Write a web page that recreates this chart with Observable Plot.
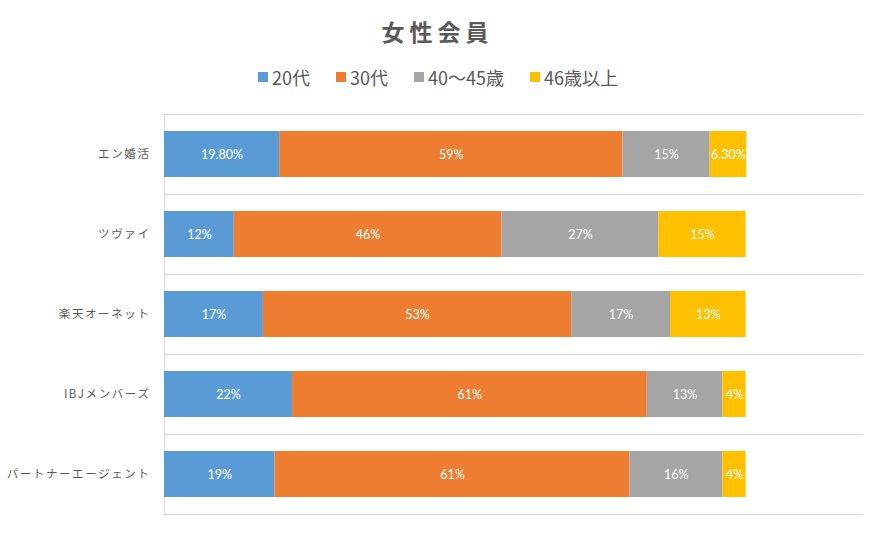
<!DOCTYPE html>
<html>
<head>
<meta charset="utf-8">
<script src="https://cdn.jsdelivr.net/npm/d3@7"></script>
<script src="https://cdn.jsdelivr.net/npm/@observablehq/plot@0.6"></script>
<style>
  html, body { margin: 0; padding: 0; background: #fff; }
  #wrap { width: 875px; height: 557px; position: relative; overflow: hidden; font-family: "Noto Sans CJK JP", sans-serif; }
  #head { position: relative; height: 95px; }
  #title { position: absolute; left: 0; width: 875px; top: 13px; text-align: center; font-size: 23px; font-weight: bold; color: #595959; letter-spacing: 5px; line-height: 36px; }
  #legend { position: absolute; top: 64px; left: 258px; display: flex; align-items: center; font-size: 18px; color: #595959; line-height: 26px; }
  .item { display: flex; align-items: center; margin-right: 26px; }
  .sw { width: 10px; height: 10px; margin-right: 4px; }
  g[aria-label="fy-axis tick label"] text { letter-spacing: 1.6px; }
</style>
</head>
<body>
<div id="wrap">
  <div id="head"><div id="title">女性会員</div><div id="legend"></div></div>
  <div id="chart"></div>
</div>
<script>
const companies = ["エン婚活", "ツヴァイ", "楽天オーネット", "IBJメンバーズ", "パートナーエージェント"];
const ages = ["20代", "30代", "40〜45歳", "46歳以上"];
const colors = ["#5B9BD5", "#ED7D31", "#A5A5A5", "#FFC000"];
const s20 = [19.8, 12, 17, 22, 19];
const s30 = [59, 46, 53, 61, 61];
const s40 = [15, 27, 17, 13, 16];
const s46 = [6.3, 15, 13, 4, 4];
const series = [s20, s30, s40, s46];

const data = [];
companies.forEach((c, i) => {
  ages.forEach((a, j) => data.push({company: c, age: a, value: series[j][i]}));
});
const fmt = v => Number.isInteger(v) ? v + "%" : v.toFixed(2) + "%";

const legend = d3.select("#legend");
ages.forEach((a, j) => {
  const it = legend.append("div").attr("class", "item");
  it.append("div").attr("class", "sw").style("background", colors[j]);
  it.append("span").text(a);
});

const chart = Plot.plot({
  width: 875,
  height: 462,
  marginTop: 18,
  marginBottom: 42,
  marginLeft: 164,
  marginRight: 13,
  style: {fontFamily: "'Noto Sans CJK JP', sans-serif", background: "#fff"},
  x: {domain: [0, 120], axis: null},
  fy: {domain: companies, padding: 0, label: null, axis: null},
  color: {domain: ages, range: colors},
  marks: [
    Plot.frame({anchor: "top", stroke: "#d9d9d9"}),
    Plot.frame({anchor: "bottom", stroke: "#d9d9d9"}),
    Plot.ruleX([0], {stroke: "#d9d9d9"}),
    Plot.barX(data, Plot.stackX({x: "value", fy: "company", fill: "age", insetTop: 17, insetBottom: 17})),
    Plot.text(data, Plot.stackX({x: "value", fy: "company", text: d => fmt(d.value), fill: "white", fontSize: 12.5, fontFamily: "Lato, 'Noto Sans', sans-serif"})),
    Plot.axisFy({anchor: "left", tickSize: 0, tickPadding: 14, fontSize: 11.5, fill: "#595959", label: null})
  ]
});
document.getElementById("chart").appendChild(chart);
</script>
</body>
</html>
